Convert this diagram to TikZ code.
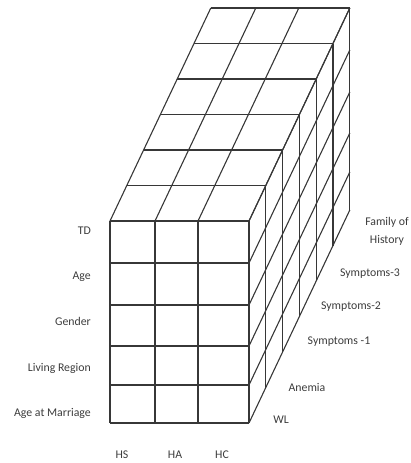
\documentclass[tikz,border=0pt]{standalone}
\usepackage{fontspec}
\setmainfont{Carlito}
\begin{document}
\begin{tikzpicture}[x=1pt, y=-1pt, font=\fontsize{11.8}{13}\selectfont]
		\definecolor{gridgray}{RGB}{55, 55, 55}
		\definecolor{textgray}{RGB}{60, 60, 60}
		\tikzset{
			gridline/.style={line width=1.1pt, gridgray},
			axislabel/.style={text=textgray, inner sep=1pt},
		}
		\useasboundingbox (0,0) rectangle (410,463);
		% 每一层向后平移 (16.8,-35.5)，共 6 层
		\def\dx{16.8}
		\def\dy{35.5}
		
		% 正面网格（3 列 x 5 行）
		\foreach \c in {110,155,198,249}
			\draw[gridline] (\c,221) -- (\c,423);
		\foreach \r in {221,263,305,346,385,423}
			\draw[gridline] (110,\r) -- (249,\r);
		
		% 顶面
		\foreach \c in {110,155,198,249}
			\draw[gridline] (\c,221) -- ({\c+6*\dx},{221-6*\dy});
		\foreach \k in {1,...,6}
			\draw[gridline] ({110+\k*\dx},{221-\k*\dy}) -- ({249+\k*\dx},{221-\k*\dy});
		
		% 右侧面
		\foreach \r in {221,263,305,346,385,423}
			\draw[gridline] (249,\r) -- ({249+6*\dx},{\r-6*\dy});
		\foreach \k in {1,...,6}
			\draw[gridline] ({249+\k*\dx},{221-\k*\dy}) -- ({249+\k*\dx},{423-\k*\dy});
		
		% 行标签
		\node[axislabel, anchor=east] (td) at (92,231) {TD};
		\node[axislabel, anchor=east] (age) at (92,277) {Age};
		\node[axislabel, anchor=east] (gender) at (92,321) {Gender};
		\node[axislabel, anchor=east] (region) at (92,368) {Living Region};
		\node[axislabel, anchor=east] (marriage) at (92,413) {Age at Marriage};
		
		% 列标签
		\node[axislabel] (hs) at (122,455) {HS};
		\node[axislabel] (ha) at (175,455) {HA};
		\node[axislabel] (hc) at (222,455) {HC};
		
		% 深度标签
		\node[axislabel] (wl) at (281,420) {WL};
		\node[axislabel] (anemia) at (307,387) {Anemia};
		\node[axislabel] (symp1) at (339,342) {Symptoms -1};
		\node[axislabel] (symp2) at (351,307) {Symptoms-2};
		\node[axislabel] (symp3) at (370,274) {Symptoms-3};
		\node[axislabel, align=center] (family) at (387,231) {Family of\\[5pt]History};
	\end{tikzpicture}
\end{document}
